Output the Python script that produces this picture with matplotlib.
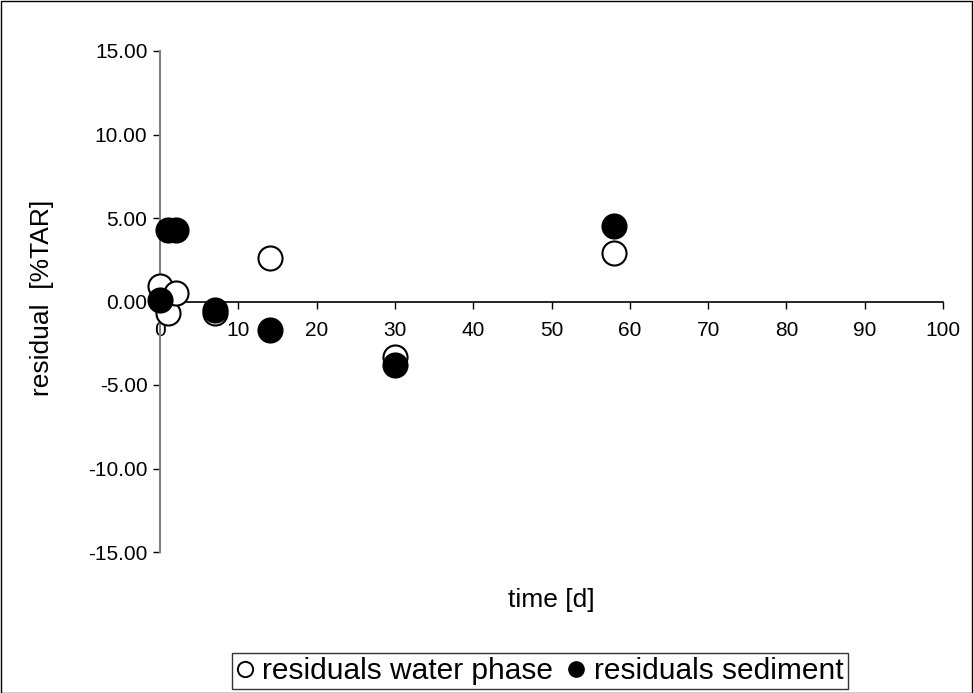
import matplotlib
matplotlib.use("Agg")
import matplotlib.pyplot as plt
from matplotlib.patches import Rectangle

plt.rcParams['font.family'] = ['Liberation Sans', 'DejaVu Sans']

# data
time_water = [0, 1, 2, 7, 14, 30, 58]
resid_water = [0.9, -0.7, 0.5, -0.7, 2.6, -3.35, 2.9]
time_sed = [0, 1, 2, 7, 14, 30, 58]
resid_sed = [0.1, 4.3, 4.3, -0.5, -1.7, -3.8, 4.5]
xticks = list(range(0, 101, 10))
yticks = [-15, -10, -5, 0, 5, 10, 15]

W, H = 973, 693
fig = plt.figure(figsize=(W / 100, H / 100), dpi=100)
fig.patches.append(Rectangle((0.5 / W, 0.5 / H), 1 - 1.5 / W, 1 - 1.5 / H,
                             transform=fig.transFigure, fill=False,
                             edgecolor='black', linewidth=1))

x0, x1 = 160, 943
ytop, ybot = 51, 552
ax = fig.add_axes([x0 / W, 1 - ybot / H, (x1 - x0) / W, (ybot - ytop) / H])
ax.set_xlim(0, 100)
ax.set_ylim(-15, 15)

for s in ['top', 'right']:
    ax.spines[s].set_visible(False)
ax.spines['bottom'].set_position(('data', 0))
ax.spines['bottom'].set_color('black')
ax.spines['bottom'].set_linewidth(1.2)
ax.spines['left'].set_color('#808080')
ax.spines['left'].set_linewidth(1.5)

ax.set_xticks(xticks)
ax.set_xticklabels([str(v) for v in xticks])
ax.set_yticks(yticks)
ax.set_yticklabels([f"{v:.2f}" for v in yticks])
ax.tick_params(axis='both', direction='out', length=5, width=1, color='black',
               labelsize=15, pad=4)
ax.tick_params(axis='x', pad=9)

ax.scatter(time_water, resid_water, s=300, facecolor='white', edgecolor='black',
           linewidth=1.5, zorder=3, label='residuals water phase', clip_on=False)
ax.scatter(time_sed, resid_sed, s=300, facecolor='black', edgecolor='black',
           linewidth=1.5, zorder=4, label='residuals sediment', clip_on=False)

fig.text(42 / W, 1 - 298 / H, 'residual  [%TAR]', rotation=90, fontsize=19,
         ha='center', va='center')
fig.text(551 / W, 1 - 600 / H, 'time [d]', fontsize=19, ha='center', va='center')

h1 = plt.Line2D([], [], marker='o', linestyle='none', markersize=11,
                markerfacecolor='white', markeredgecolor='black', markeredgewidth=1.4)
h2 = plt.Line2D([], [], marker='o', linestyle='none', markersize=11,
                markerfacecolor='black', markeredgecolor='black')
leg = fig.legend([h1, h2], ['residuals water phase', 'residuals sediment'],
                 loc='center', bbox_to_anchor=(540 / W, 1 - 671 / H), ncol=2,
                 fontsize=21.5, frameon=True, fancybox=False, edgecolor='black',
                 handlelength=0.55, handletextpad=0.3, columnspacing=0.5,
                 borderpad=0.15, borderaxespad=0)
leg.get_frame().set_linewidth(1)

fig.savefig('out.png', dpi=100)
